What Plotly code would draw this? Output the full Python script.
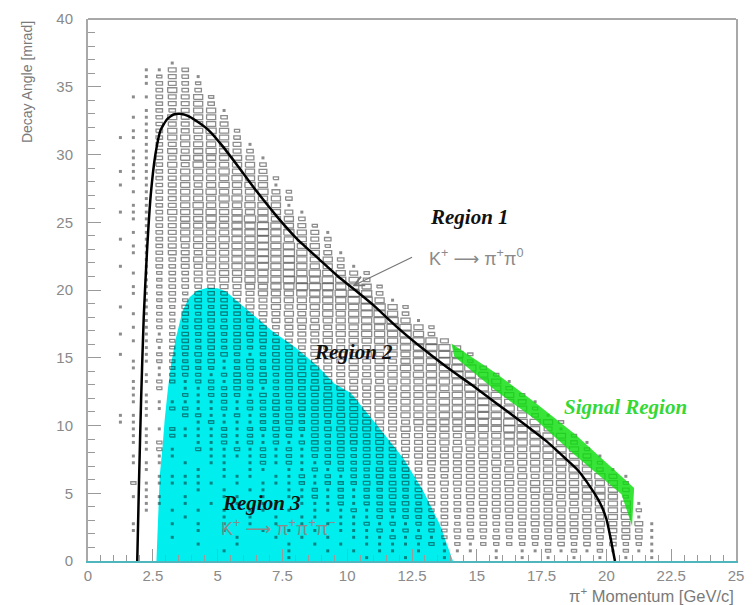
import plotly.graph_objects as go

# ---------------- data ----------------
X_BIN = 0.5   # GeV/c per histogram bin
Y_BIN = 0.5   # mrad per histogram bin
ROW_TOP_INDEX = 73  # index of the first row below (y bin 36.5-37.0)

# histogram content levels, one row per y bin (top row first);
# ROW_START = first x-bin index of the row, ROW_CELLS = content level per bin (0 = empty, 1 = dot)
ROW_START = [6, 4, 4, 4, 5, 3, 5, 4, 3, 4, 3, 2, 4, 3, 3, 3, 2, 3, 2, 3, 4, 3, 2, 3, 4, 3,
             2, 3, 3, 4, 2, 3, 4, 3, 3, 4, 2, 3, 4, 3, 2, 3, 4, 2, 3, 3, 4, 3, 3, 3, 3, 4,
             2, 2, 3, 3, 3, 4, 3, 3, 4, 5, 3, 4, 3, 4, 4, 7, 3, 3, 6, 8, 10, 15]
ROW_CELLS = [
    "1", "1143", "12431", "13432", "3533", "1134452", "34453", "1334551", "11354553",
    "1344554", "113545652", "1113554553", "134555541", "1135456543", "11345555541",
    "11354655553", "111345556554", "113455556552", "1013454565651", "1134556555642",
    "134555665553", "1134565556651", "111355565656541", "11345565676553",
    "13455556676542", "1134555566766541", "10134555666765543", "1134455566767552",
    "11344455667676541", "1334555667676553", "1013344556676765531",
    "1123344556667676542", "123344556667767653", "11233334455667776652",
    "11232333445556667763", "12323333445556667751", "10122332334454556667752",
    "1122323333445456567763", "1222332333445455667751", "112223233233445455667752",
    "1011232323332444555666763", "1122323232333445455666774",
    "1123232322333444545566773", "1012223232123334454545566772",
    "112222312323343445454566762", "1012322123233344454556566773",
    "1122212323234344545556667652", "112212213232333444545556667651",
    "102011223212334344454556567653", "1100212221323334344545556667652",
    "11111112122323343445455566676541", "1122112122323343445455566676652",
    "1110022112122323344454555666766531", "11000012111223232344444555566676652",
    "1112111212232233434445455566676541", "11021112121221323334344454555666652",
    "112001121212123233343444545556666531", "12102112121213232333444454555566652",
    "1011001111212122323333444445455566541", "1110101101212112223233344444545556652",
    "1000101011011212223233344444545556531", "1111011101121212232333344444545555641",
    "211111101011121222323333444445455556552", "10001010110112121223233334444454555653",
    "111010011010112121223233334444445455652", "110101010110111212223233334444445455551",
    "101010101101011121222323333444444545552", "100101010110111212223233334444454551",
    "10010101010101011121212232333334444454441", "10000101001010101112121223232333344444431",
    "10000100101010111212122323233333333431", "100100010101011111212122222232323221",
    "1000010010101101011101011212121211", "10000010010010001010101010101",
]

# K+ -> pi+ pi0 kinematic curve
CURVE_X = [1.90, 1.97, 2.05, 2.15, 2.28, 2.42, 2.60, 2.80, 3.05, 3.30, 3.55, 3.85, 4.20,
           4.65, 5.20, 5.80, 6.50, 7.30, 8.10, 8.90, 9.65, 10.30, 11.00, 11.90, 12.90,
           13.85, 14.80, 15.75, 16.70, 17.65, 18.40, 18.90, 19.40, 19.75, 20.00, 20.15,
           20.25, 20.33]
CURVE_Y = [0.0, 6.0, 12.0, 18.0, 23.0, 27.0, 30.0, 31.8, 32.6, 32.95, 33.0, 32.85, 32.45,
           31.8, 30.6, 29.1, 27.3, 25.4, 23.7, 22.3, 21.0, 20.0, 18.9, 17.3, 15.7, 14.3,
           13.0, 11.65, 10.3, 8.9, 7.6, 6.7, 5.4, 4.3, 3.1, 1.8, 0.8, 0.0]

# Region 3 (cyan) boundary
CYAN_X = [2.64, 2.70, 2.77, 2.88, 2.96, 3.08, 3.21, 3.40, 3.65, 3.91, 4.20, 4.61, 5.00,
          5.31, 6.20, 7.09, 7.98, 8.87, 9.50, 10.14, 11.16, 12.17, 12.94, 13.57, 14.08]
CYAN_Y = [0.0, 3.0, 6.35, 8.5, 10.47, 12.65, 14.6, 16.53, 18.47, 19.44, 19.95, 20.17,
          20.12, 19.9, 18.47, 17.0, 15.8, 14.35, 13.1, 12.4, 10.0, 7.56, 5.14, 2.72, 0.0]

# signal region (green) boundary
GREEN_X = [14.02, 15.73, 17.26, 18.78, 20.80, 21.07, 20.99, 20.58, 18.78, 17.26, 15.73, 14.13]
GREEN_Y = [16.05, 13.87, 11.68, 9.38, 5.87, 5.38, 2.59, 4.92, 7.83, 10.45, 12.56, 15.10]

X_TICKS = [0, 2.5, 5, 7.5, 10, 12.5, 15, 17.5, 20, 22.5, 25]
X_TICK_TEXT = ["0", "2.5", "5", "7.5", "10", "12.5", "15", "17.5", "20", "22.5", "25"]
Y_TICKS = [0, 5, 10, 15, 20, 25, 30, 35, 40]

# ---------------- styling ----------------
LEVEL_FRACTION = {2: 0.40, 3: 0.50, 4: 0.60, 5: 0.70, 6: 0.78, 7: 0.86}
BOX_COLOR = "rgba(0,0,0,0.45)"
GRAY_TXT = "#8a8a8a"

bx, by, dx, dy = [], [], [], []
for i, (start, cells) in enumerate(zip(ROW_START, ROW_CELLS)):
    r = ROW_TOP_INDEX - i
    yc = (r + 0.5) * Y_BIN
    for j, ch in enumerate(cells):
        lvl = int(ch)
        if lvl == 0:
            continue
        xc = (start + j + 0.5) * X_BIN
        if lvl == 1:
            dx.append(xc)
            dy.append(yc)
        else:
            f = LEVEL_FRACTION[lvl]
            hx, hy = f * X_BIN / 2, f * Y_BIN / 2
            bx += [xc - hx, xc + hx, xc + hx, xc - hx, xc - hx, None]
            by += [yc - hy, yc - hy, yc + hy, yc + hy, yc - hy, None]

fig = go.Figure()
fig.add_trace(go.Scatter(x=CYAN_X, y=CYAN_Y, mode="lines", fill="toself",
                         fillcolor="#00eeee", line=dict(width=0), hoverinfo="skip"))
fig.add_trace(go.Scatter(x=bx, y=by, mode="lines",
                         line=dict(color=BOX_COLOR, width=1.3), hoverinfo="skip"))
fig.add_trace(go.Scatter(x=dx, y=dy, mode="markers",
                         marker=dict(symbol="square", size=3, color=BOX_COLOR,
                                     line=dict(width=0)), hoverinfo="skip"))
fig.add_trace(go.Scatter(x=GREEN_X, y=GREEN_Y, mode="lines", fill="toself",
                         fillcolor="rgba(14,222,14,0.82)", line=dict(width=0),
                         hoverinfo="skip"))
fig.add_trace(go.Scatter(x=CURVE_X, y=CURVE_Y, mode="lines",
                         line=dict(color="black", width=2.5, shape="spline", smoothing=0.5),
                         hoverinfo="skip"))

serif_bi = dict(family="Liberation Serif, Times New Roman, serif", size=21, color="#111111")
sans_gray = dict(family="Liberation Sans, DejaVu Sans, sans-serif", size=18, color=GRAY_TXT)

ann = [
    dict(x=14.7, y=25.4, text="<b><i>Region 1</i></b>", font=serif_bi, showarrow=False),
    dict(x=10.25, y=15.4, text="<b><i>Region 2</i></b>", font=serif_bi, showarrow=False),
    dict(x=6.69, y=4.26, text="<b><i>Region 3</i></b>", font=serif_bi, showarrow=False),
    dict(x=20.73, y=11.4, text="<b><i>Signal Region</i></b>",
         font=dict(serif_bi, color="#35d835"), showarrow=False),
    dict(x=13.06, y=22.4, xanchor="left", text="K<sup>+</sup> ⟶ π<sup>+</sup>π<sup>0</sup>",
         font=sans_gray, showarrow=False),
    dict(x=5.05, y=2.45, xanchor="left",
         text="K<sup>+</sup> ⟶ π<sup>+</sup>π<sup>+</sup>π<sup>−</sup>",
         font=sans_gray, showarrow=False),
    dict(x=10.2, y=20.28, ax=12.56, ay=22.47, axref="x", ayref="y", text="",
         showarrow=True, arrowhead=5, arrowsize=1.6, arrowwidth=1.2, arrowcolor="#777777"),
    dict(x=-0.094, y=1.0, xref="paper", yref="paper", xanchor="center", yanchor="top",
         text="Decay Angle [mrad]", textangle=-90, showarrow=False,
         font=dict(family="Liberation Sans, sans-serif", size=14, color="#7a7a7a")),
    dict(x=1.0, y=-0.062, xref="paper", yref="paper", xanchor="right", yanchor="middle",
         text="π<sup>+</sup> Momentum [GeV/c]", showarrow=False,
         font=dict(family="Liberation Sans, sans-serif", size=16.5, color="#7a7a7a")),
]

fig.update_layout(
    width=754, height=605,
    margin=dict(l=88, r=11, t=10, b=44),
    paper_bgcolor="white", plot_bgcolor="white",
    showlegend=False,
    annotations=ann,
    shapes=[dict(type="line", xref="paper", yref="paper", x0=0, x1=1, y0=1, y1=1,
                 line=dict(color="#a8a8a8", width=2), layer="above")],
    xaxis=dict(range=[0, 25], tickvals=X_TICKS, ticktext=X_TICK_TEXT,
               showgrid=False, zeroline=False, showline=True, linecolor="#4fb6be",
               linewidth=2, ticks="inside", ticklen=12, tickcolor="#9a9a9a",
               minor=dict(dtick=0.5, ticks="inside", ticklen=6, tickcolor="#9a9a9a"),
               tickfont=dict(family="Liberation Sans, sans-serif", size=15, color=GRAY_TXT)),
    yaxis=dict(range=[0, 40], tickvals=Y_TICKS,
               showgrid=False, zeroline=False, showline=True, linecolor="#a8a8a8",
               linewidth=2, mirror=True, ticks="inside", ticklen=13, tickcolor="#9a9a9a",
               ticklabelstandoff=10,
               minor=dict(dtick=1, ticks="inside", ticklen=7, tickcolor="#9a9a9a"),
               tickfont=dict(family="Liberation Sans, sans-serif", size=15, color=GRAY_TXT)),
)

fig.write_html("out.html")
